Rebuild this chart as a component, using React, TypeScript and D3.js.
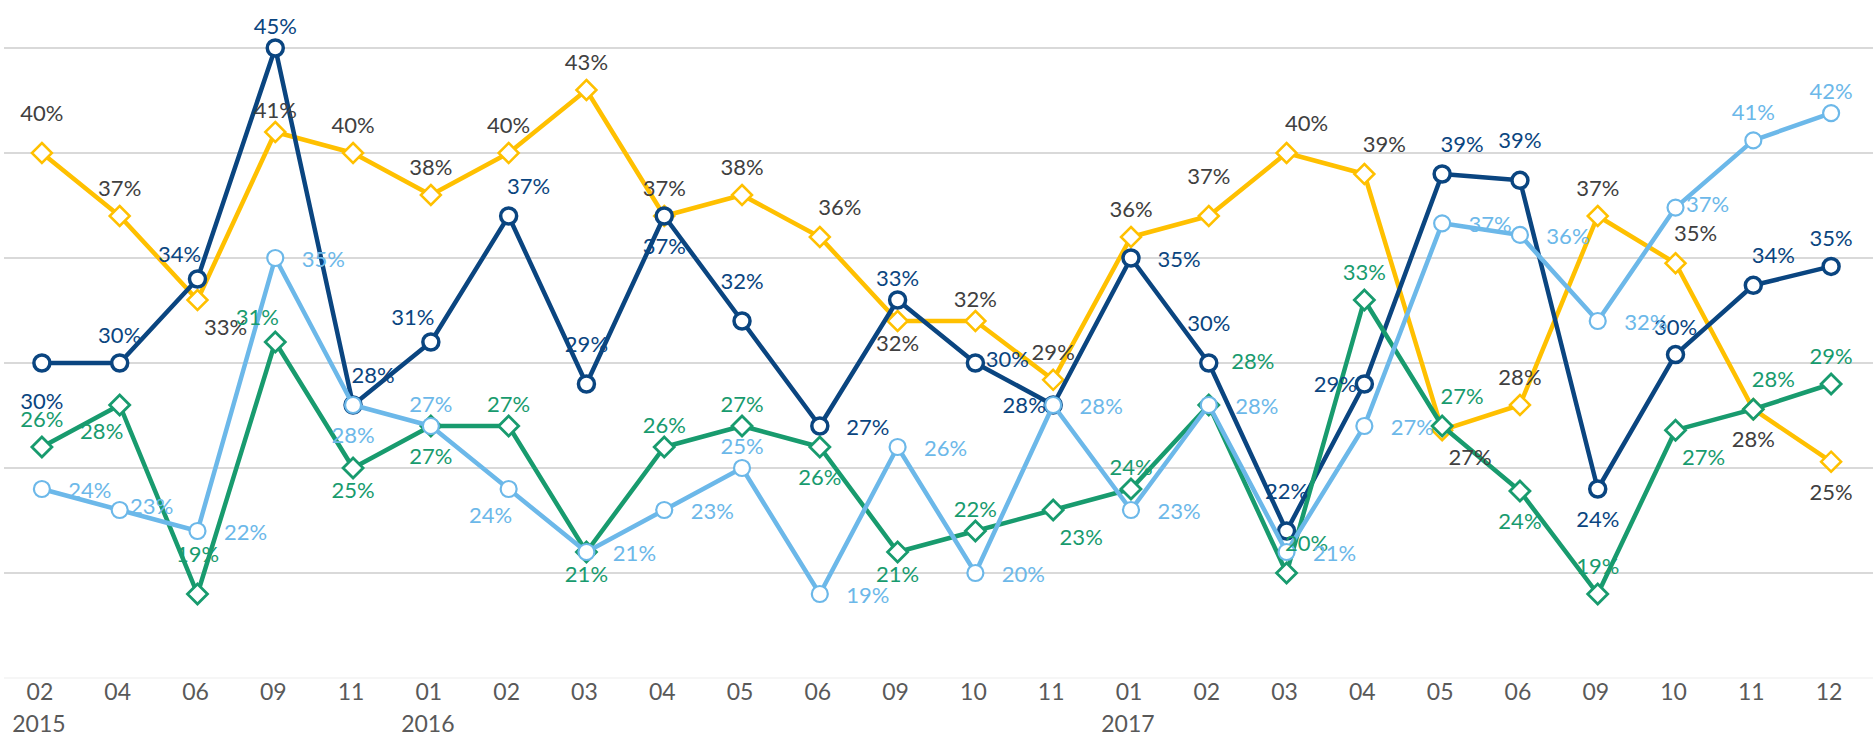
import React from "react";
import * as d3 from "d3";

const categories = ["02","04","06","09","11","01","02","03","04","05","06","09","10","11","01","02","03","04","05","06","09","10","11","12"];
const years = [{ index: 0, label: "2015" }, { index: 5, label: "2016" }, { index: 14, label: "2017" }];

const navyValues = [30, 30, 34, 45, 28, 31, 37, 29, 37, 32, 27, 33, 30, 28, 35, 30, 22, 29, 39, 38.7, 24, 30.4, 33.7, 34.6];
const yellowValues = [40, 37, 33, 41, 40, 38, 40, 43, 37, 38, 36, 32, 32, 29.2, 36, 37, 40, 39, 26.8, 28, 37, 34.75, 27.8, 25.3];
const lightBlueValues = [24, 23, 22, 35, 28, 27, 24, 21, 23, 25, 19, 26, 20, 28, 23, 28, 21, 27, 36.65, 36.1, 32, 37.4, 40.6, 41.9];
const greenValues = [26, 28, 19, 31, 25, 27, 27, 21, 26, 27, 26, 21, 22, 23, 24, 28, 20, 33, 27, 23.9, 19, 26.8, 27.8, 29];

// label placement codes (Excel-like positions)
const navyLabelPos = ["BB","T","TL","t","TR","TL","TR","TT","B","TT","R","t","r","L","R","TT","TT","L","TR","TT","B","T","TR","T"];
const yellowLabelPos = ["TT","T","BR","t","T","T","T","T","T","T","TR","b","t","T","T","TT","TR","TR","BR","T","T","TR","B","B"];
const lightBlueLabelPos = ["R","r","R","R","B","t","BL","R","R","t","R","R","R","R","R","R","R","R","R","R","R","r","T","t"];
const greenLabelPos = ["T","BL","TT","TL","b","B","t","b","t","t","B","b","t","BR","t","TRR","TR","T","TR","B","T","BR","TR","T"];

const yTicks = [15, 20, 25, 30, 35, 40, 45];

const W = 1873;
const H = 743;

const offsets: Record<string, [number, number]> = {
  T: [0, -20], t: [0, -14], TT: [0, -32],
  B: [0, 38], b: [0, 30], BB: [0, 46],
  R: [48, 9], r: [32, 4], L: [-29, 8],
  TR: [20, -22], TL: [-18, -17], BR: [28, 35], BL: [-18, 34], TRR: [44, -36],
};

type Series = {
  name: string;
  values: number[];
  pos: string[];
  color: string;
  labelColor: string;
  marker: "circle" | "diamond";
  lineWidth: number;
  markerSize: number;
  markerStroke: number;
};

const series: Series[] = [
  { name: "yellow", values: yellowValues, pos: yellowLabelPos, color: "#FFC000", labelColor: "#404040", marker: "diamond", lineWidth: 4.5, markerSize: 10, markerStroke: 2.5 },
  { name: "navy", values: navyValues, pos: navyLabelPos, color: "#0A4580", labelColor: "#0A4580", marker: "circle", lineWidth: 4.5, markerSize: 8, markerStroke: 3.5 },
  { name: "green", values: greenValues, pos: greenLabelPos, color: "#189B6E", labelColor: "#189B6E", marker: "diamond", lineWidth: 4.5, markerSize: 10, markerStroke: 2.8 },
  { name: "lightblue", values: lightBlueValues, pos: lightBlueLabelPos, color: "#6CB8E9", labelColor: "#6CB8E9", marker: "circle", lineWidth: 4.5, markerSize: 8, markerStroke: 2.2 },
];

export default function App() {
  const x = d3.scaleBand<number>().domain(categories.map((_, i) => i)).range([3, 1870]).paddingInner(0).paddingOuter(0);
  const cx = (i: number) => (x(i) as number) + x.bandwidth() / 2;
  const y = d3.scaleLinear().domain([15, 45]).range([678, 48]);

  const line = d3.line<number>().x((_, i) => cx(i)).y((v) => y(v));
  const font = "Lato, 'Open Sans', 'DejaVu Sans', sans-serif";

  return (
    <svg width={W} height={H} style={{ position: "absolute", left: 0, top: 0, background: "#fff" }} fontFamily={font}>
      <rect x={0} y={0} width={W} height={H} fill="#ffffff" />
      {yTicks.map((t) => (
        <line key={t} x1={4} x2={W} y1={y(t)} y2={y(t)} stroke={t === 15 ? "#EEEEEE" : "#D9D9D9"} strokeWidth={t === 15 ? 1.2 : 1.8} />
      ))}
      {categories.map((c, i) => (
        <text key={"c" + i} x={cx(i) - 2} y={699.5} textAnchor="middle" fontSize={23} fill="#595959">{c}</text>
      ))}
      {years.map((yr) => (
        <text key={yr.label} x={cx(yr.index) - 3} y={731.5} textAnchor="middle" fontSize={23} fill="#595959">{yr.label}</text>
      ))}
      {series.map((s) => (
        <g key={s.name}>
          <path d={line(s.values) || ""} fill="none" stroke={s.color} strokeWidth={s.lineWidth} strokeLinejoin="round" />
          {s.values.map((v, i) => {
            const px = cx(i);
            const py = y(v);
            if (s.marker === "circle") {
              return <circle key={i} cx={px} cy={py} r={s.markerSize} fill="#fff" stroke={s.color} strokeWidth={s.markerStroke} />;
            }
            const r = s.markerSize;
            const d = `M${px},${py - r}L${px + r},${py}L${px},${py + r}L${px - r},${py}Z`;
            return <path key={i} d={d} fill="#fff" stroke={s.color} strokeWidth={s.markerStroke} strokeLinejoin="miter" />;
          })}
        </g>
      ))}
      {series.map((s) => (
        <g key={"l" + s.name}>
          {s.values.map((v, i) => {
            const o = offsets[s.pos[i]] || offsets.T;
            return (
              <text key={i} x={cx(i) + o[0]} y={y(v) + o[1]} textAnchor="middle" fontSize={22} fill={s.labelColor}>
                {Math.round(v) + "%"}
              </text>
            );
          })}
        </g>
      ))}
    </svg>
  );
}
